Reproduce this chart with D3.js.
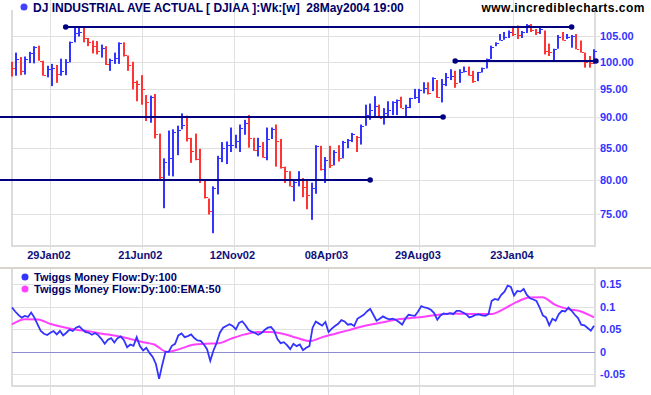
<!DOCTYPE html>
<html>
<head>
<meta charset="utf-8">
<script src="https://cdn.jsdelivr.net/npm/d3@7"></script>
<style>
  body { margin: 0; background: #fff; }
  svg { display: block; font-family: "Liberation Sans", Arial, sans-serif; }
</style>
</head>
<body>
<div id="chart"></div>
<script>
// ---- data -------------------------------------------------------------
// weekly bars, first bar = week ending 30 Nov 2001, last = 28 May 2004
const firstWeek = new Date(2001, 10, 30);
const lastDay = new Date(2004, 4, 28);
const prevClose = 99.3;

const highs = [100.0, 101.75, 100.9, 101.0, 101.9, 103.0, 103.1, 100.2, 99.25, 99.6,
  99.4, 100.6, 100.5, 103.9, 106.75, 106.75, 106.75, 104.6, 104.1, 104.0,
  103.3, 103.0, 100.6, 101.75, 103.75, 103.75, 101.2, 100.0, 96.5, 97.5,
  93.9, 93.8, 94.1, 87.3, 83.3, 87.8, 88.0, 88.6, 90.7, 90.3,
  86.6, 87.3, 84.8, 80.1, 77.2, 79.0, 83.7, 85.9, 86.0, 88.3,
  87.1, 88.8, 89.6, 90.4, 86.6, 86.6, 85.9, 88.3, 88.3, 88.8,
  86.4, 82.0, 81.3, 80.1, 81.3, 80.25, 79.9, 79.55, 85.4, 85.3,
  83.5, 85.3, 84.6, 85.4, 86.1, 86.4, 87.4, 86.9, 88.8, 92.2,
  92.4, 93.7, 92.2, 91.6, 92.8, 92.8, 93.1, 93.6, 92.2, 93.4,
  95.0, 95.0, 96.2, 96.2, 97.1, 96.6, 96.8, 97.9, 98.6, 98.3,
  98.6, 99.1, 99.1, 98.3, 98.1, 98.9, 100.6, 103.1, 103.75, 105.4,
  105.8, 106.1, 106.6, 107.1, 106.0, 107.4, 107.4, 106.4, 106.75, 106.1,
  103.5, 102.5, 105.2, 105.8, 105.4, 105.2, 105.4, 104.1, 101.75, 101.1,
  102.4];
const lows = [97.25, 97.4, 97.5, 97.6, 99.75, 99.7, 100.2, 97.4, 97.1, 95.5,
  96.1, 97.4, 97.5, 99.9, 103.75, 104.9, 103.75, 103.0, 101.6, 101.4,
  100.8, 99.4, 98.3, 99.6, 99.6, 101.0, 98.3, 94.9, 92.8, 92.2,
  89.4, 89.1, 86.5, 79.9, 75.8, 80.6, 80.5, 83.8, 88.0, 86.0,
  82.6, 83.0, 79.5, 77.2, 74.9, 72.3, 77.8, 82.7, 82.4, 84.3,
  84.9, 84.3, 87.1, 85.0, 84.5, 83.6, 83.4, 83.0, 86.4, 82.0,
  81.7, 79.5, 79.0, 76.8, 79.0, 77.4, 75.65, 74.15, 77.9, 81.4,
  79.5, 81.8, 82.2, 82.8, 83.3, 84.9, 85.9, 84.3, 85.5, 88.6,
  89.6, 90.2, 89.9, 88.8, 89.9, 90.4, 90.4, 91.6, 90.0, 91.6,
  93.2, 92.5, 94.2, 94.0, 94.6, 93.4, 92.6, 95.5, 96.6, 95.2,
  96.1, 98.0, 97.4, 96.1, 96.4, 98.0, 98.75, 100.5, 103.0, 104.1,
  104.25, 104.6, 105.0, 104.4, 104.6, 105.6, 105.8, 105.2, 105.4, 101.4,
  101.1, 100.2, 102.5, 104.1, 104.4, 102.7, 102.4, 101.75, 98.9, 98.9,
  99.6];
const closes = [98.75, 100.6, 98.3, 100.5, 101.75, 102.8, 100.2, 97.6, 98.6, 98.9,
  97.7, 98.2, 99.9, 103.75, 105.6, 105.8, 104.6, 103.9, 103.0, 102.0,
  102.7, 99.6, 100.4, 100.8, 103.6, 101.2, 99.3, 96.2, 95.9, 94.9,
  92.6, 93.6, 87.2, 80.4, 82.8, 83.3, 87.5, 87.9, 88.8, 86.6,
  84.5, 83.2, 79.9, 77.4, 75.4, 78.7, 83.4, 84.9, 85.4, 85.5,
  86.0, 88.3, 89.1, 86.6, 84.6, 85.3, 83.5, 86.4, 88.1, 86.1,
  82.0, 81.3, 79.1, 79.7, 80.1, 78.9, 77.65, 78.75, 85.3, 81.6,
  83.0, 82.2, 84.3, 83.3, 85.9, 86.2, 87.2, 86.8, 88.6, 90.4,
  91.2, 92.0, 89.9, 90.7, 91.3, 92.6, 92.95, 91.6, 91.8, 93.3,
  93.5, 94.8, 95.2, 94.3, 96.9, 93.5, 95.8, 97.1, 97.4, 96.1,
  98.0, 98.3, 97.5, 96.4, 98.0, 98.75, 100.5, 102.9, 103.6, 104.25,
  104.9, 105.8, 105.4, 105.2, 105.8, 107.2, 106.25, 105.8, 106.4, 102.0,
  101.8, 102.4, 104.9, 104.3, 104.9, 105.0, 102.5, 101.9, 100.0, 99.8,
  102.0];

// support / resistance lines
const linePrices = [106.8, 90.0, 80.0, 100.2];
const lineStarts = ["2002-02-22", "2001-11-11", "2001-11-11", "2003-10-24"];
const lineEnds = ["2004-04-23", "2003-10-05", "2003-06-13", "2004-05-31"];

// Twiggs Money Flow (every 5 days) and its 50 EMA
const tmf = [0.0985, 0.0896, 0.0821, 0.0761, 0.0799, 0.0776, 0.0873, 0.0761, 0.0612, 0.0463,
  0.0403, 0.0373, 0.0425, 0.0463, 0.0388, 0.0463, 0.0366, 0.0425, 0.0493, 0.0463,
  0.0537, 0.0567, 0.05, 0.044, 0.0425, 0.0381, 0.0418, 0.0366, 0.0284, 0.0179,
  0.0269, 0.0306, 0.0209, 0.0306, 0.0343, 0.0261, 0.0104, 0.0164, 0.0134, 0.0328,
  0.0127, 0.003, 0.009, -0.0022, -0.0112, -0.0269, -0.06, -0.0284, 0.0, 0.0,
  0.0134, 0.0179, 0.0366, 0.041, 0.0328, 0.0351, 0.0388, 0.0306, 0.0254, 0.0246,
  0.0164, 0.006, -0.02, 0.003, 0.0201, 0.0425, 0.0537, 0.0575, 0.0612, 0.0575,
  0.05, 0.0642, 0.0679, 0.059, 0.0485, 0.0448, 0.0418, 0.0381, 0.0418, 0.0485,
  0.0537, 0.0552, 0.0463, 0.0284, 0.0194, 0.0216, 0.0149, 0.006, 0.0179, 0.0127,
  0.0164, 0.0037, 0.009, 0.0127, 0.0537, 0.0672, 0.0627, 0.0582, 0.0664, 0.044,
  0.0515, 0.0574, 0.0625, 0.0706, 0.0676, 0.0603, 0.0618, 0.0574, 0.0735, 0.0779,
  0.0824, 0.0897, 0.0956, 0.0824, 0.0691, 0.0735, 0.0787, 0.075, 0.0721, 0.0735,
  0.0713, 0.0662, 0.0603, 0.0735, 0.0824, 0.0809, 0.0801, 0.0897, 0.1015, 0.0985,
  0.0971, 0.0934, 0.086, 0.0713, 0.0809, 0.0853, 0.0838, 0.086, 0.0838, 0.0912,
  0.0912, 0.0875, 0.0838, 0.0765, 0.0787, 0.0824, 0.0831, 0.0809, 0.0801, 0.0838,
  0.1132, 0.1176, 0.1154, 0.1265, 0.1338, 0.1471, 0.1441, 0.125, 0.1353, 0.1338,
  0.1397, 0.1265, 0.1191, 0.1162, 0.1132, 0.0985, 0.0809, 0.0765, 0.0588, 0.0735,
  0.0691, 0.0838, 0.0912, 0.0897, 0.0985, 0.0912, 0.0824, 0.075, 0.0603, 0.0588,
  0.0529, 0.0471, 0.0581];
const tmfEma = [0.0612, 0.0724, 0.0716, 0.0619, 0.0545, 0.0493, 0.0455, 0.0403, 0.0358, 0.0299,
  0.0224, 0.0164, 0.0, 0.0067, 0.0157, 0.0179, 0.0194, 0.0299, 0.0388, 0.044,
  0.044, 0.0396, 0.0313, 0.0239, 0.0328, 0.0404, 0.0478, 0.0559, 0.0618, 0.0676,
  0.0728, 0.0757, 0.0787, 0.0824, 0.0853, 0.0846, 0.0838, 0.0838, 0.0949, 0.1103,
  0.1206, 0.1213, 0.1044, 0.0949, 0.0897, 0.0765];

const priceTicks = [75, 80, 85, 90, 95, 100, 105];
const tmfTicks = [-0.05, 0, 0.05, 0.1, 0.15];
const dateTicks = ["2002-01-29", "2002-06-21", "2002-11-12", "2003-04-08", "2003-08-29", "2004-01-23"];

// ---- chart ------------------------------------------------------------
const width = 651, height = 395;
const left = 12, right = 595;
const priceTop = 10, priceBottom = 246;
const tmfTop = 269, tmfBottom = 386;
const gridColor = "#e0e0e0";
const navy = "#000080";
const blue = "#3434ff";
const red = "#ff3434";
const parse = d3.timeParse("%Y-%m-%d");

const svg = d3.select("#chart")
  .append("svg")
  .attr("width", width)
  .attr("height", height);

const x = d3.scaleTime().domain([firstWeek, lastDay]).range([left, right - 1]);
const y = d3.scaleLog().domain([75, 105]).range([213.8, 36]);
const yTmf = d3.scaleLinear().domain([-0.05, 0.15]).range([374.4, 284.3]);

// vertical grid (both panels)
dateTicks.forEach((s) => {
  const gx = Math.round(x(parse(s))) + 0.5;
  svg.append("line").attr("x1", gx).attr("x2", gx).attr("y1", 0).attr("y2", priceBottom + 4)
    .attr("stroke", gridColor);
  svg.append("line").attr("x1", gx).attr("x2", gx).attr("y1", tmfTop).attr("y2", height)
    .attr("stroke", gridColor);
});

// horizontal price grid
svg.selectAll(".pgrid")
  .data(priceTicks)
  .enter()
  .append("line")
  .attr("x1", left)
  .attr("x2", right)
  .attr("y1", (d) => Math.round(y(d)) + 0.5)
  .attr("y2", (d) => Math.round(y(d)) + 0.5)
  .attr("stroke", gridColor);

// panel frames
const frame = (top, bottom) => {
  svg.append("path")
    .attr("d", `M${left},${top}V${bottom}H${right}V${top}`)
    .attr("fill", "none")
    .attr("stroke", "#dcdcdc")
    .attr("stroke-width", 2);
};
frame(priceTop, priceBottom);
frame(tmfTop, tmfBottom);

// panel separator
svg.append("line").attr("x1", 0).attr("x2", width).attr("y1", tmfTop - 1).attr("y2", tmfTop - 1)
  .attr("stroke", "#d8d4cc").attr("stroke-width", 2);

// right price axis
const yAxis = svg.append("g")
  .attr("transform", `translate(${right},0)`)
  .call(d3.axisRight(y).tickValues(priceTicks).tickFormat(d3.format(".2f")).tickSize(5));
yAxis.select(".domain").remove();
yAxis.selectAll("line").attr("stroke", gridColor);
yAxis.selectAll("text")
  .attr("x", 5)
  .attr("fill", blue)
  .style("font-size", "11px")
  .style("font-weight", "bold")
  .style("font-family", "Liberation Sans, Arial, sans-serif");

// bottom date axis
const xAxis = svg.append("g")
  .attr("transform", `translate(0,${priceBottom})`)
  .call(d3.axisBottom(x).tickValues(dateTicks.map(parse)).tickFormat(d3.timeFormat("%d%b%y")).tickSize(0));
xAxis.select(".domain").remove();
xAxis.selectAll("text")
  .attr("y", 5)
  .attr("dx", -2)
  .attr("fill", "#10107a")
  .style("font-size", "11px")
  .style("font-weight", "bold")
  .style("font-family", "Liberation Sans, Arial, sans-serif");

// price bars
const bars = highs.map((h, i) => ({
  date: d3.timeDay.offset(firstWeek, 7 * i),
  high: h,
  low: lows[i],
  close: closes[i],
  up: closes[i] >= (i ? closes[i - 1] : prevClose)
}));

svg.selectAll(".bar")
  .data(bars)
  .enter()
  .append("rect")
  .attr("class", "bar")
  .attr("x", (d) => Math.round(x(d.date)) - 1)
  .attr("width", 2)
  .attr("y", (d) => y(d.high))
  .attr("height", (d) => y(d.low) - y(d.high))
  .attr("fill", (d) => (d.up ? blue : red));

svg.selectAll(".tick-close")
  .data(bars)
  .enter()
  .append("rect")
  .attr("x", (d) => Math.round(x(d.date)) + 1)
  .attr("width", 2)
  .attr("y", (d) => Math.round(y(d.close)))
  .attr("height", 1)
  .attr("fill", (d) => (d.up ? blue : red));

// support / resistance lines
linePrices.forEach((p, i) => {
  const d0 = parse(lineStarts[i]), d1 = parse(lineEnds[i]);
  const ly = Math.round(y(p));
  svg.append("line")
    .attr("x1", Math.max(0, x(d0))).attr("x2", x(d1))
    .attr("y1", ly).attr("y2", ly)
    .attr("stroke", navy).attr("stroke-width", 2);
  if (d0 >= firstWeek) svg.append("circle").attr("cx", x(d0)).attr("cy", ly).attr("r", 2.8).attr("fill", navy);
  svg.append("circle").attr("cx", x(d1)).attr("cy", ly).attr("r", 2.8).attr("fill", navy);
});

// TMF panel
const tmfZero = Math.round(yTmf(0)) + 0.5;
svg.selectAll(".tgrid")
  .data(tmfTicks.filter((d) => d !== 0))
  .enter()
  .append("line")
  .attr("x1", left)
  .attr("x2", right)
  .attr("y1", (d) => Math.round(yTmf(d)) + 0.5)
  .attr("y2", (d) => Math.round(yTmf(d)) + 0.5)
  .attr("stroke", gridColor);
svg.append("line").attr("x1", left).attr("x2", right).attr("y1", tmfZero).attr("y2", tmfZero)
  .attr("stroke", "#8c8cd0");

const tAxis = svg.append("g")
  .attr("transform", `translate(${right},0)`)
  .call(d3.axisRight(yTmf).tickValues(tmfTicks).tickFormat((d) => String(d)).tickSize(0));
tAxis.select(".domain").remove();
tAxis.selectAll("text")
  .attr("x", 5)
  .attr("fill", blue)
  .style("font-size", "11px")
  .style("font-weight", "bold")
  .style("font-family", "Liberation Sans, Arial, sans-serif");

const spanDate = (n) => (j) => new Date(+firstWeek + (j * (lastDay - firstWeek)) / (n - 1));
const tmfDate = spanDate(tmf.length);
const emaDate = spanDate(tmfEma.length);

svg.append("path")
  .datum(tmfEma)
  .attr("fill", "none")
  .attr("stroke", "#ff40ff")
  .attr("stroke-width", 2)
  .attr("d", d3.line().x((d, j) => x(emaDate(j))).y((d) => yTmf(d)).curve(d3.curveMonotoneX));

svg.append("path")
  .datum(tmf)
  .attr("fill", "none")
  .attr("stroke", blue)
  .attr("stroke-width", 1.8)
  .attr("d", d3.line().x((d, j) => x(tmfDate(j))).y((d) => yTmf(d)));

// legend
const legend = [["Twiggs Money Flow:Dy:100", blue], ["Twiggs Money Flow:Dy:100:EMA:50", "#ff40ff"]];
legend.forEach(([label, color], i) => {
  svg.append("circle").attr("cx", 25).attr("cy", 277 + i * 12).attr("r", 3.5).attr("fill", color);
  svg.append("text")
    .attr("x", 34)
    .attr("y", 281 + i * 12)
    .attr("fill", "#000066")
    .style("font-size", "11px")
    .style("font-weight", "bold")
    .text(label);
});

// title
svg.append("circle").attr("cx", 24).attr("cy", 7).attr("r", 3.5).attr("fill", "#4040ff");
svg.append("text")
  .attr("x", 33)
  .attr("y", 12)
  .attr("fill", "#000066")
  .style("font-size", "12px")
  .style("font-weight", "bold")
  .attr("xml:space", "preserve")
  .text("DJ INDUSTRIAL AVE ACTUAL [ DJIAA ]:Wk:[w]  28May2004 19:00");

svg.append("text")
  .attr("x", 645)
  .attr("y", 12)
  .attr("text-anchor", "end")
  .attr("fill", "#000")
  .style("font-size", "12px")
  .style("font-weight", "bold")
  .style("letter-spacing", "0.5px")
  .text("www.incrediblecharts.com");
</script>
</body>
</html>
